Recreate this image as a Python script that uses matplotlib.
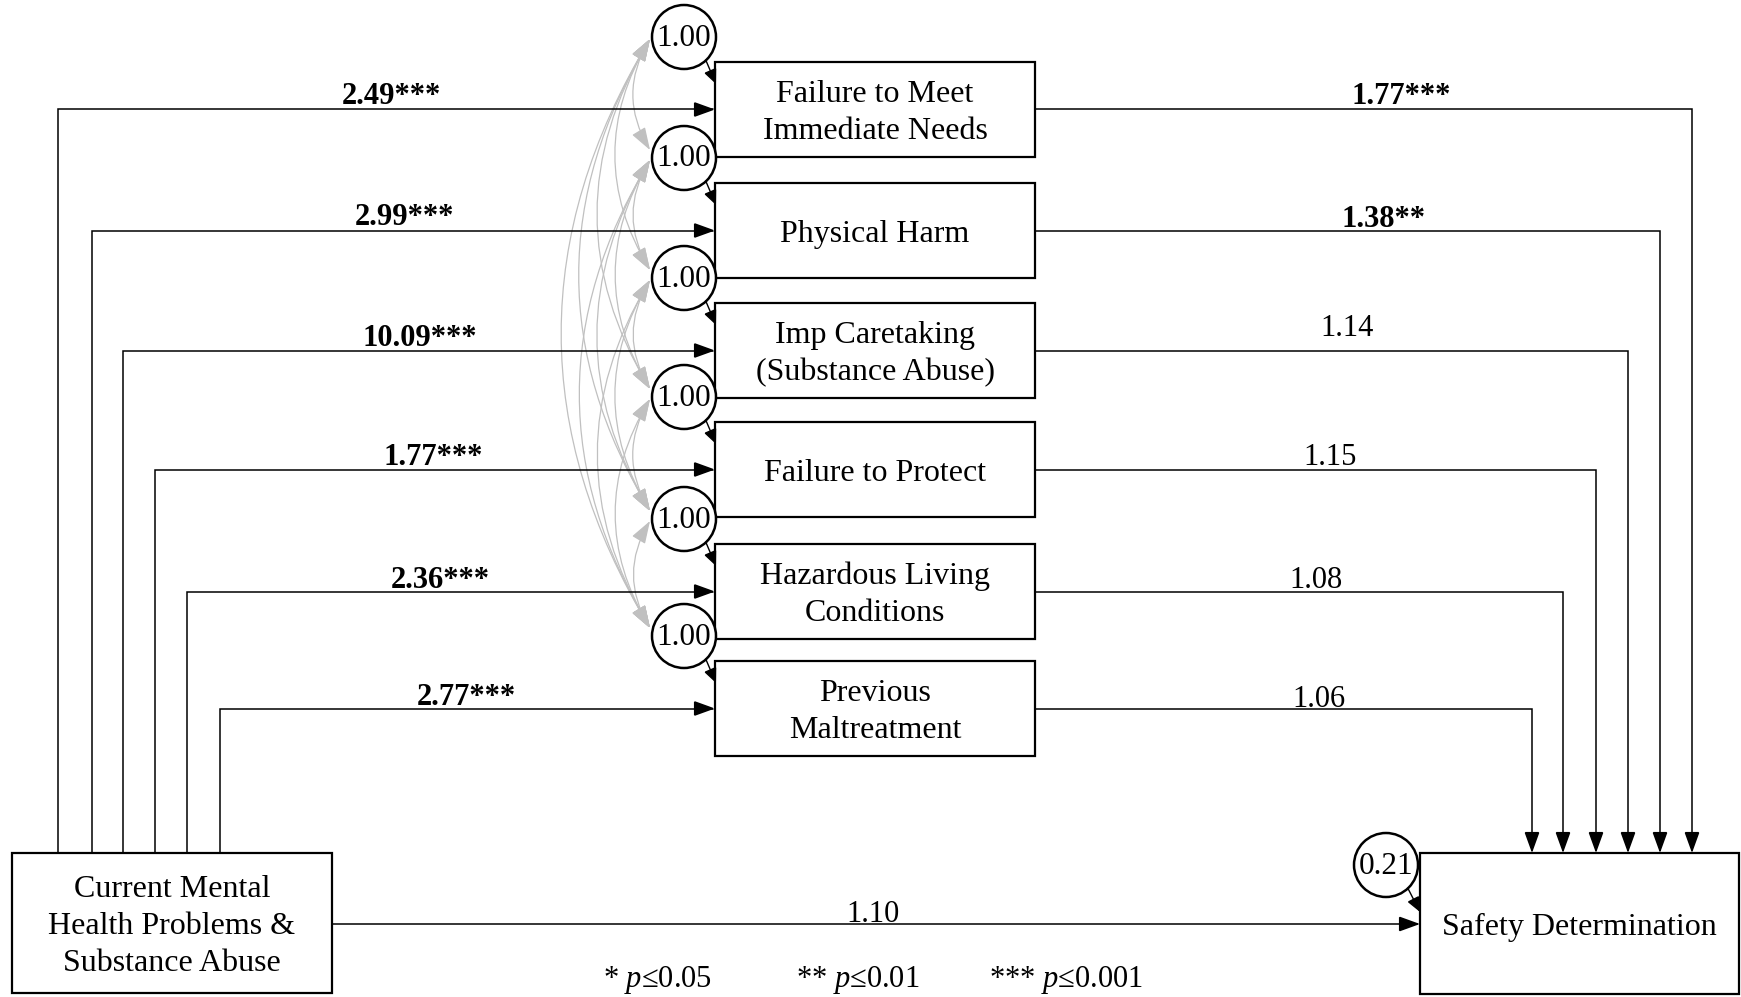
import matplotlib
matplotlib.use("Agg")
import matplotlib.pyplot as plt
from matplotlib.patches import Rectangle, Circle, FancyArrowPatch
from matplotlib.path import Path

# ---- model content -------------------------------------------------------
source_label = ["Current Mental", "Health Problems &", "Substance Abuse"]
outcome_label = ["Safety Determination"]
mediators = [
    ["Failure to Meet", "Immediate Needs"],
    ["Physical Harm"],
    ["Imp Caretaking", "(Substance Abuse)"],
    ["Failure to Protect"],
    ["Hazardous Living", "Conditions"],
    ["Previous", "Maltreatment"],
]
# source -> mediator coefficients and significance
a_coef = [2.49, 2.99, 10.09, 1.77, 2.36, 2.77]
a_sig = ["***", "***", "***", "***", "***", "***"]
# mediator -> outcome coefficients and significance
b_coef = [1.77, 1.38, 1.14, 1.15, 1.08, 1.06]
b_sig = ["***", "**", "", "", "", ""]
# direct effect
c_coef = 1.10
c_sig = ""
# residual variances
mediator_resid = [1.00, 1.00, 1.00, 1.00, 1.00, 1.00]
outcome_resid = 0.21
legend_items = [("*", "0.05"), ("**", "0.01"), ("***", "0.001")]

# ---- fonts ---------------------------------------------------------------
plt.rcParams['font.family'] = ['Liberation Serif', 'DejaVu Serif']
plt.rcParams['mathtext.fontset'] = 'custom'
plt.rcParams['mathtext.rm'] = 'Liberation Serif'
plt.rcParams['mathtext.it'] = 'Liberation Serif:italic'
plt.rcParams['mathtext.bf'] = 'Liberation Serif:bold'

W, H = 1741, 997
fig = plt.figure(figsize=(W / 100, H / 100), dpi=100)
ax = fig.add_axes([0, 0, 1, 1])
ax.set_xlim(0, W)
ax.set_ylim(H, 0)
ax.axis('off')

# ---- layout (pixels) -----------------------------------------------------
med_x0, med_x1 = 715, 1035
med_tops = [62, 183, 303, 422, 544, 661]
med_h = 95
src_box = (12, 853, 332, 993)
out_box = (1420, 853, 1739, 994)
src_x = [58, 92, 123, 155, 187, 220]
out_x = [1692, 1660, 1628, 1596, 1563, 1532]
a_lab_x = [391, 404, 420, 433, 440, 466]
a_lab_dy = [5, 6, 5, 5, 4, 4]
b_lab_x = [1401, 1384, 1347, 1330, 1316, 1319]
b_lab_dy = [5, 4, 15, 5, 4, 2]
circ_x, circ_r = 684, 32
line_gap = 37
FS_BOX = 23
FS_LAB = 22
FS_CIRC = 22.5


def box(x0, y0, x1, y1):
    ax.add_patch(Rectangle((x0, y0), x1 - x0, y1 - y0, facecolor='white',
                           edgecolor='black', lw=1.6, zorder=3))


def box_text(lines, cx, cy):
    n = len(lines)
    for k, s in enumerate(lines):
        yc = cy + (k - (n - 1) / 2) * line_gap
        ax.text(cx, yc + 11, s, ha='center', va='baseline', fontsize=FS_BOX,
                zorder=5)


def arrow(verts, color='black', lw=1.1, hl=13, hw=4.7, style='-|>', z=2):
    ax.add_patch(FancyArrowPatch(
        path=Path(verts),
        arrowstyle=f"{style},head_length={hl},head_width={hw}",
        color=color, lw=lw, zorder=z, joinstyle='miter'))


def coef_text(value, sig, x, y):
    ax.text(x, y, f"{value:.2f}{sig}", ha='center', va='baseline',
            fontsize=FS_LAB, fontweight='bold' if sig else 'normal', zorder=5)


# ---- mediator boxes and paths --------------------------------------------
med_cy = [t + med_h / 2 for t in med_tops]
for i, lines in enumerate(mediators):
    top = med_tops[i]
    cy = med_cy[i]
    box(med_x0, top, med_x1, top + med_h)
    box_text(lines, (med_x0 + med_x1) / 2, cy)
    # source -> mediator
    arrow([(src_x[i], src_box[1]), (src_x[i], cy), (med_x0, cy)])
    coef_text(a_coef[i], a_sig[i], a_lab_x[i], cy - a_lab_dy[i])
    # mediator -> outcome
    arrow([(med_x1, cy), (out_x[i], cy), (out_x[i], out_box[1])])
    coef_text(b_coef[i], b_sig[i], b_lab_x[i], cy - b_lab_dy[i])

# ---- source and outcome boxes --------------------------------------------
box(*src_box)
box_text(source_label, (src_box[0] + src_box[2]) / 2, (src_box[1] + src_box[3]) / 2)
box(*out_box)
box_text(outcome_label, (out_box[0] + out_box[2]) / 2, (out_box[1] + out_box[3]) / 2)

direct_y = 924
arrow([(src_box[2], direct_y), (out_box[0], direct_y)])
coef_text(c_coef, c_sig, 873, direct_y - 2)

# ---- residual circles ----------------------------------------------------
circ_y = [t - 25 for t in med_tops]


def resid_circle(cx, cy, val, tip):
    ax.add_patch(Circle((cx, cy), circ_r, facecolor='white', edgecolor='black',
                        lw=1.8, zorder=4))
    ax.text(cx, cy + 1, f"{val:.2f}", ha='center', va='center',
            fontsize=FS_CIRC, zorder=5)
    start = (cx + 0.68 * circ_r, cy + 0.72 * circ_r)
    arrow([start, tip], lw=1.0, hl=9, hw=4.0, z=4)


for i, v in enumerate(mediator_resid):
    resid_circle(circ_x, circ_y[i], v, (med_x0 + 1, circ_y[i] + 47))

resid_circle(1386, 865, outcome_resid, (out_box[0], 912))

# ---- residual covariances (double-headed grey arcs) ----------------------
n = len(mediators)
for i in range(n):
    for j in range(i + 1, n):
        pa = (circ_x - circ_r - 2, circ_y[i] + 2)
        pb = (circ_x - circ_r - 2, circ_y[j] - 8)
        ax.add_patch(FancyArrowPatch(
            pa, pb, connectionstyle="arc3,rad=0.3",
            arrowstyle="<|-|>,head_length=14,head_width=4.7",
            color='#c0c0c0', lw=0.9, shrinkA=0, shrinkB=0, zorder=1))

# ---- significance key ----------------------------------------------------
key_x = [658, 858, 1066]
for (stars, p), x in zip(legend_items, key_x):
    ax.text(x, 987, f"{stars} $p$≤{p}", ha='center', va='baseline',
            fontsize=FS_LAB, zorder=5)

fig.savefig("out.png", dpi=100, facecolor='white')
